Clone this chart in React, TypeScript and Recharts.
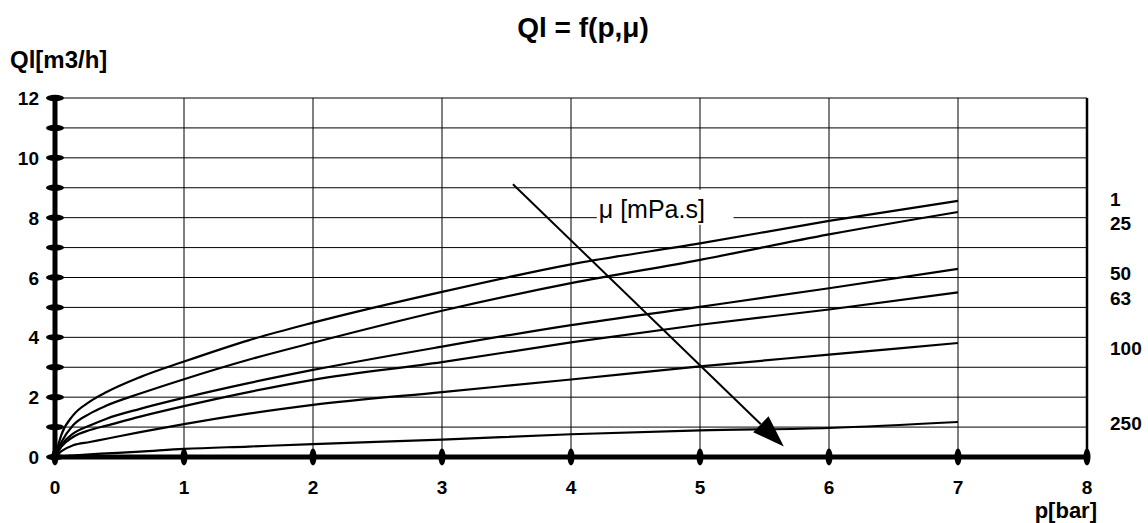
import {
  LineChart, Line,
  XAxis, YAxis,
  CartesianGrid, ReferenceLine, ReferenceArea, ReferenceDot,
} from 'recharts'

const FONT = "'Liberation Sans', Arial, Helvetica, sans-serif"

// p[bar]
const pressure = [0, 0.05, 0.14, 0.27, 0.4, 0.66, 1, 1.5, 2, 3, 4, 5, 6, 7]

// Ql[m3/h] per viscosity
const q1 = [0, 0.75, 1.39, 1.85, 2.17, 2.67, 3.19, 3.9, 4.49, 5.52, 6.44, 7.14, 7.89, 8.56]
const q25 = [0, 0.5, 1.06, 1.45, 1.72, 2.12, 2.6, 3.25, 3.82, 4.89, 5.81, 6.59, 7.44, 8.19]
const q50 = [0, 0.4, 0.78, 1.05, 1.28, 1.61, 1.98, 2.47, 2.91, 3.69, 4.41, 5.02, 5.64, 6.29]
const q63 = [0, 0.35, 0.67, 0.9, 1.05, 1.35, 1.7, 2.17, 2.58, 3.17, 3.83, 4.42, 4.93, 5.5]
const q100 = [0, 0.2, 0.39, 0.5, 0.61, 0.83, 1.1, 1.45, 1.74, 2.17, 2.59, 3.03, 3.42, 3.81]
const q250 = [0, 0.02, 0.05, 0.09, 0.12, 0.18, 0.27, 0.35, 0.43, 0.58, 0.76, 0.89, 0.97, 1.17]

const viscosities = ['1', '25', '50', '63', '100', '250']
const seriesValues = [q1, q25, q50, q63, q100, q250]
// where the viscosity names sit on the right side (value units)
const labelLevels = [8.64, 7.83, 6.15, 5.3, 3.63, 1.12]

const xTicks = [0, 1, 2, 3, 4, 5, 6, 7, 8]
const yTicks = [0, 1, 2, 3, 4, 5, 6, 7, 8, 9, 10, 11, 12]

const arrowFrom = { p: 3.55, q: 9.12 }
const arrowTo = { p: 5.65, q: 0.35 }

const data = pressure.map((p, i) => {
  const row: Record<string, number> = { p }
  viscosities.forEach((v, s) => { row['mu' + v] = seriesValues[s][i] })
  return row
})

function YTick({ x, y, payload }: any) {
  return (
    <g>
      <ellipse cx={x} cy={y} rx={9} ry={3.2} fill="#000" />
      {payload.value % 2 === 0 && (
        <text x={x - 16} y={y + 7} textAnchor="end" fontFamily={FONT} fontWeight="bold" fontSize={19} fill="#000">
          {payload.value}
        </text>
      )}
    </g>
  )
}

function XTick({ x, y, payload }: any) {
  return (
    <g>
      <ellipse cx={x} cy={y} rx={3.5} ry={8.5} fill="#000" />
      <text x={x} y={y + 37} textAnchor="middle" fontFamily={FONT} fontWeight="bold" fontSize={19} fill="#000">
        {payload.value}
      </text>
    </g>
  )
}

function Arrow(props: any) {
  const { x1, y1, x2, y2 } = props
  const dx = x2 - x1
  const dy = y2 - y1
  const len = Math.hypot(dx, dy)
  const ux = dx / len
  const uy = dy / len
  const hl = 32
  const hw = 11
  const bx = x2 - ux * hl
  const by = y2 - uy * hl
  return (
    <g>
      <line x1={x1} y1={y1} x2={bx} y2={by} stroke="#000" strokeWidth={2} />
      <polygon
        points={`${x2},${y2} ${bx - uy * hw},${by + ux * hw} ${bx + uy * hw},${by - ux * hw}`}
        fill="#000"
      />
    </g>
  )
}

export default function App() {
  return (
    <div style={{ position: 'absolute', left: 0, top: 0, width: 1148, height: 523, background: '#fff' }}>
      <LineChart width={1148} height={523} data={data} margin={{ top: 98, right: 61, bottom: 26, left: 15 }}>
        <CartesianGrid stroke="#000" strokeWidth={1} />
        <XAxis
          dataKey="p" type="number" domain={[0, 8]} ticks={xTicks} height={40}
          axisLine={{ stroke: '#000', strokeWidth: 5 }} tickLine={false} tickSize={0} tickMargin={0}
          tick={XTick} interval={0}
        />
        <YAxis
          type="number" domain={[0, 12]} ticks={yTicks} width={40}
          axisLine={{ stroke: '#000', strokeWidth: 5 }} tickLine={false} tickSize={0} tickMargin={0}
          tick={YTick} interval={0}
        />
        <ReferenceLine x={8} stroke="#000" strokeWidth={2.5} />
        <ReferenceArea
          x1={4.2} x2={5.26} y1={7.76} y2={8.93} fill="#fff" fillOpacity={1} stroke="none"
          label={({ viewBox }: any) => (
            <text x={viewBox.x + 2} y={viewBox.y + viewBox.height / 2 + 11} fontFamily={FONT} fontSize={25} fill="#000">
              μ [mPa.s]
            </text>
          )}
        />
        {viscosities.map(v => (
          <Line
            key={v} dataKey={'mu' + v} type="monotone" stroke="#000" strokeWidth={2.2}
            dot={false} activeDot={false} isAnimationActive={false}
          />
        ))}
        <ReferenceLine
          segment={[{ x: arrowFrom.p, y: arrowFrom.q }, { x: arrowTo.p, y: arrowTo.q }]}
          shape={Arrow} ifOverflow="visible"
        />
        {viscosities.map((v, i) => (
          <ReferenceDot
            key={'l' + v} x={8} y={labelLevels[i]} r={0} ifOverflow="visible"
            label={({ viewBox }: any) => (
              <text x={viewBox.x + 23} y={viewBox.y + 7} fontFamily={FONT} fontWeight="bold" fontSize={19} fill="#000">
                {v}
              </text>
            )}
          />
        ))}
      </LineChart>
      <svg width={1148} height={523} style={{ position: 'absolute', left: 0, top: 0, pointerEvents: 'none' }}>
        <text x={583} y={37} textAnchor="middle" fontFamily={FONT} fontWeight="bold" fontSize={28} fill="#000">
          Ql = f(p,μ)
        </text>
        <text x={10} y={68} fontFamily={FONT} fontWeight="bold" fontSize={24} fill="#000">
          Ql[m3/h]
        </text>
        <text x={1097} y={518} textAnchor="end" fontFamily={FONT} fontWeight="bold" fontSize={22} fill="#000">
          p[bar]
        </text>
      </svg>
    </div>
  )
}
